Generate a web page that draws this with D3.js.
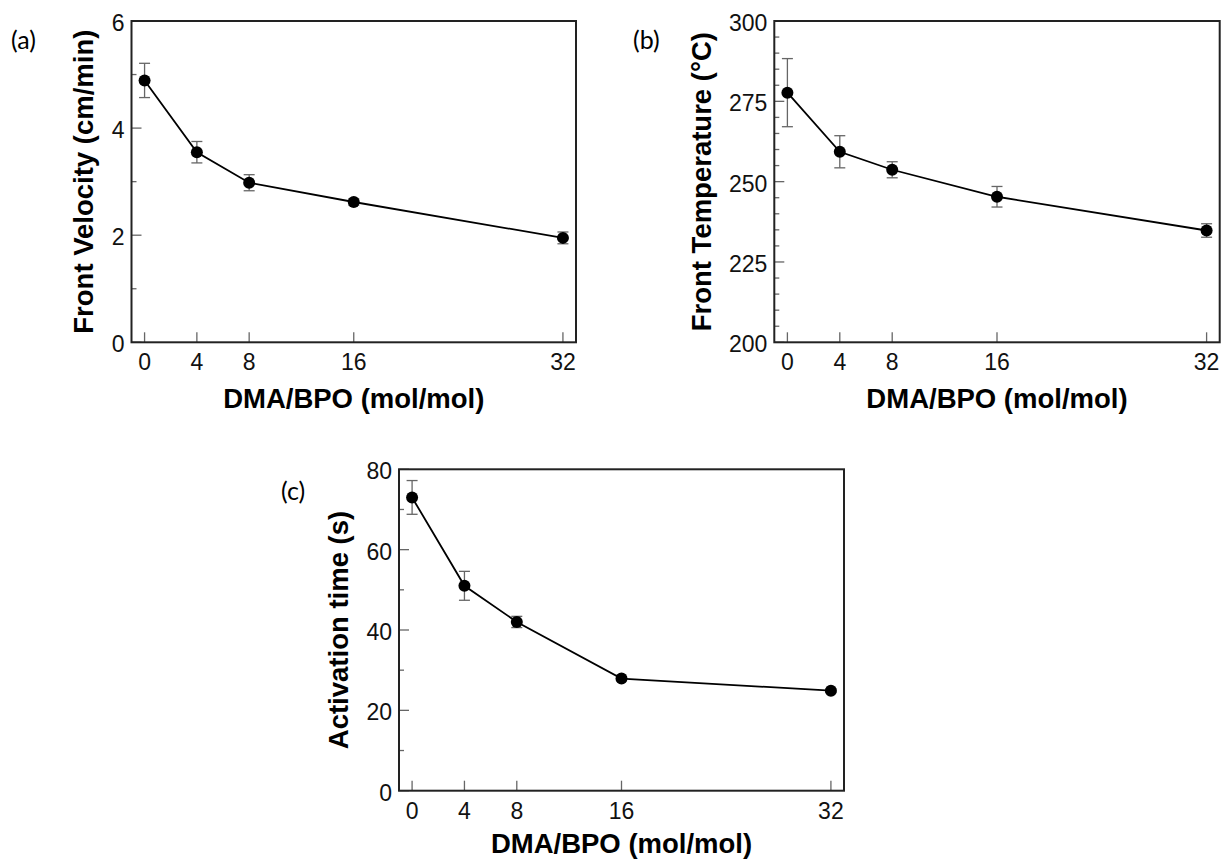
<!DOCTYPE html>
<html>
<head>
<meta charset="utf-8">
<script src="https://cdn.jsdelivr.net/npm/d3@7"></script>
<style>
  html, body { margin: 0; padding: 0; background: #fff; }
  svg { display: block; }
  .tick-label { font-family: "Liberation Sans", Arial, sans-serif; font-size: 23px; fill: #111; }
  .axis-title { font-family: "Liberation Sans", Arial, sans-serif; font-size: 27.5px; font-weight: bold; fill: #000; }
  .panel-label { font-family: Lato, "Open Sans", sans-serif; font-size: 25px; fill: #000; }
</style>
</head>
<body>
<svg id="fig" width="1222" height="861"></svg>
<script>
// DMA/BPO molar ratios tested
const ratios = [0, 4, 8, 16, 32];
const ratioTicks = [0, 4, 8, 16, 32];

// (a) front velocity, cm/min
const velocity = [4.89, 3.55, 2.98, 2.62, 1.95];
const velocityErr = [0.32, 0.20, 0.15, 0.06, 0.11];
const velocityTicks = [0, 2, 4, 6];
const velocityMinor = [1, 3, 5];

// (b) front temperature, °C
const temperature = [277.7, 259.3, 253.7, 245.3, 234.8];
const temperatureErr = [10.6, 5.0, 2.5, 3.2, 2.1];
const temperatureTicks = [200, 225, 250, 275, 300];
const temperatureMinor = [205, 210, 215, 220, 230, 235, 240, 245, 255, 260, 265, 270, 280, 285, 290, 295];

// (c) activation time, s
const activation = [73.0, 51.0, 42.0, 27.9, 24.9];
const activationErr = [4.2, 3.6, 1.4, 0.5, 0.4];
const activationTicks = [0, 20, 40, 60, 80];
const activationMinor = [10, 30, 50, 70];

const xTitle = "DMA/BPO (mol/mol)";

const svg = d3.select("#fig");

function drawPanel(opt) {
  const g = svg.append("g").attr("transform", `translate(${opt.left},${opt.top})`);
  const w = opt.width, h = opt.height;

  const x = d3.scaleLinear().domain([-1, 33]).range([0, w]);
  const y = d3.scaleLinear().domain(opt.yDomain).range([h, 0]);

  // inward ticks on the bottom axis
  g.append("g").selectAll("line").data(ratioTicks).join("line")
    .attr("x1", d => x(d)).attr("x2", d => x(d))
    .attr("y1", h).attr("y2", h - 10)
    .attr("stroke", "#666").attr("stroke-width", 1.3);

  g.append("g").selectAll("text").data(ratioTicks).join("text")
    .attr("class", "tick-label")
    .attr("x", d => x(d)).attr("y", h + 28)
    .attr("text-anchor", "middle")
    .text(d => d);

  // inward ticks on the left axis
  g.append("g").selectAll("line").data(opt.yTicks).join("line")
    .attr("x1", 0).attr("x2", 10)
    .attr("y1", d => y(d)).attr("y2", d => y(d))
    .attr("stroke", "#666").attr("stroke-width", 1.3);
  g.append("g").selectAll("line").data(opt.yMinor).join("line")
    .attr("x1", 0).attr("x2", 5)
    .attr("y1", d => y(d)).attr("y2", d => y(d))
    .attr("stroke", "#666").attr("stroke-width", 1.3);

  g.append("g").selectAll("text").data(opt.yTicks).join("text")
    .attr("class", "tick-label")
    .attr("x", -7).attr("y", d => y(d))
    .attr("dy", "0.43em")
    .attr("text-anchor", "end")
    .text(d => d);

  // frame
  g.append("rect")
    .attr("x", 0).attr("y", 0).attr("width", w).attr("height", h)
    .attr("fill", "none").attr("stroke", "#222").attr("stroke-width", 2);

  const pts = ratios.map((r, i) => ({ x: r, y: opt.values[i], e: opt.errors[i] }));

  // error bars
  const eb = g.append("g").attr("stroke", "#666").attr("stroke-width", 1.3);
  eb.selectAll("line.v").data(pts).join("line").attr("class", "v")
    .attr("x1", d => x(d.x)).attr("x2", d => x(d.x))
    .attr("y1", d => y(d.y - d.e)).attr("y2", d => y(d.y + d.e));
  eb.selectAll("line.t").data(pts).join("line").attr("class", "t")
    .attr("x1", d => x(d.x) - 5.5).attr("x2", d => x(d.x) + 5.5)
    .attr("y1", d => y(d.y + d.e)).attr("y2", d => y(d.y + d.e));
  eb.selectAll("line.b").data(pts).join("line").attr("class", "b")
    .attr("x1", d => x(d.x) - 5.5).attr("x2", d => x(d.x) + 5.5)
    .attr("y1", d => y(d.y - d.e)).attr("y2", d => y(d.y - d.e));

  // connecting line
  g.append("path").datum(pts)
    .attr("fill", "none").attr("stroke", "#000").attr("stroke-width", 1.8)
    .attr("d", d3.line().x(d => x(d.x)).y(d => y(d.y)));

  // markers
  g.append("g").selectAll("circle").data(pts).join("circle")
    .attr("cx", d => x(d.x)).attr("cy", d => y(d.y)).attr("r", 6)
    .attr("fill", "#000");

  // axis titles
  g.append("text").attr("class", "axis-title")
    .attr("x", w / 2).attr("y", h + opt.xTitleOffset)
    .attr("text-anchor", "middle")
    .text(xTitle);

  g.append("text").attr("class", "axis-title")
    .attr("transform", `translate(${opt.titleOffset},${h / 2}) rotate(-90)`)
    .attr("text-anchor", "middle")
    .text(opt.yTitle);

  // panel letter
  svg.append("text").attr("class", "panel-label")
    .attr("x", opt.labelX).attr("y", opt.labelY)
    .text(opt.label);
}

drawPanel({
  left: 131.5, top: 21, width: 444.5, height: 321.3,
  yDomain: [0, 6], yTicks: velocityTicks, yMinor: velocityMinor,
  values: velocity, errors: velocityErr,
  yTitle: "Front Velocity (cm/min)", titleOffset: -38.5, xTitleOffset: 66,
  label: "(a)", labelX: 11, labelY: 49
});

drawPanel({
  left: 774.3, top: 21, width: 445.4, height: 321.3,
  yDomain: [200, 300], yTicks: temperatureTicks, yMinor: temperatureMinor,
  values: temperature, errors: temperatureErr,
  yTitle: "Front Temperature (°C)", titleOffset: -63.3, xTitleOffset: 66,
  label: "(b)", labelX: 633, labelY: 49
});

drawPanel({
  left: 399, top: 469.3, width: 445, height: 321.4,
  yDomain: [0, 80], yTicks: activationTicks, yMinor: activationMinor,
  values: activation, errors: activationErr,
  yTitle: "Activation time (s)", titleOffset: -51.5, xTitleOffset: 62,
  label: "(c)", labelX: 281, labelY: 500
});
</script>
</body>
</html>
